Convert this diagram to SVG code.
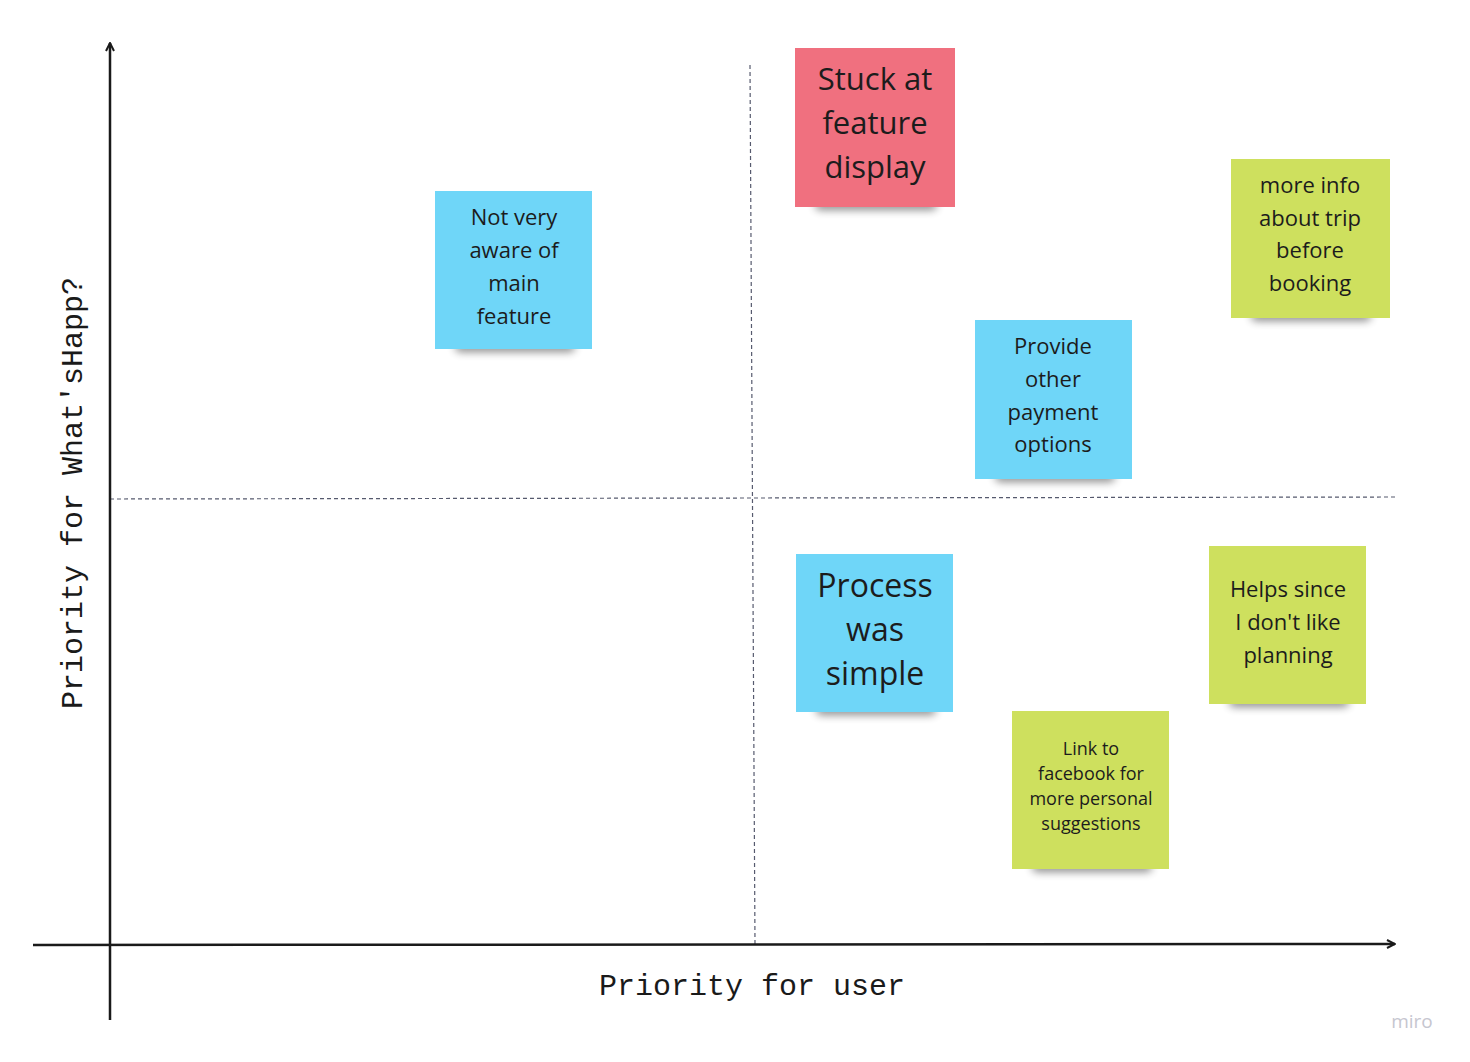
<svg xmlns="http://www.w3.org/2000/svg" width="1470" height="1062" viewBox="0 0 1470 1062">
<style>
.note text{font-family:"Open Sans","Liberation Sans",sans-serif;fill:#1c1c1c;text-anchor:middle;dominant-baseline:central}
.blue{fill:#6fd6f8}
.green{fill:#cee05e}
.pink{fill:#f0707f}
.shadow{fill:#000;opacity:0.45;filter:url(#blur)}
.axis{stroke:#1a1a1a;stroke-width:2.5;fill:none}
.dash{stroke:#565a6e;stroke-width:1.2;stroke-dasharray:4 3;fill:none}
.label{font-family:"Liberation Mono","DejaVu Sans Mono",monospace;font-size:30px;fill:#1a1a1a}
</style>
<defs>
<filter id="blur" x="-20%" y="-100%" width="140%" height="300%"><feGaussianBlur stdDeviation="4"/></filter>
<marker id="arr" viewBox="0 0 10 10" refX="9" refY="5" markerWidth="10" markerHeight="10" markerUnits="userSpaceOnUse" orient="auto">
<path d="M1,1 L9,5 L1,9" fill="none" stroke="#1a1a1a" stroke-width="2"/>
</marker>
</defs>
<rect width="1470" height="1062" fill="#fff"/>
<g id="connectors">
<line class="dash" x1="750" y1="65" x2="755" y2="945"/>
<line class="dash" x1="110" y1="499" x2="1397" y2="497"/>
<line class="axis" x1="110" y1="1020" x2="110" y2="43" marker-end="url(#arr)"/>
<line class="axis" x1="33" y1="945" x2="1395" y2="944" marker-end="url(#arr)"/>
</g>
<g id="axis-labels">
<text class="label" x="752" y="995" text-anchor="middle">Priority for user</text>
<text class="label" x="82" y="493" text-anchor="middle" transform="rotate(-90 82 493)">Priority for What'sHapp?</text>
</g>
<g id="note-stuck" class="note">
<rect class="shadow" x="815" y="200" width="122" height="10" rx="5"/>
<rect class="pink" x="795" y="48" width="160" height="159"/>
<text font-size="31"><tspan x="875" y="78">Stuck at</tspan><tspan x="875" y="122">feature</tspan><tspan x="875" y="166">display</tspan></text>
</g>
<g id="note-notaware" class="note">
<rect class="shadow" x="455" y="342" width="120" height="10" rx="5"/>
<rect class="blue" x="435" y="191" width="157" height="158"/>
<text font-size="22"><tspan x="514" y="216">Not very</tspan><tspan x="514" y="249">aware of</tspan><tspan x="514" y="282">main</tspan><tspan x="514" y="315">feature</tspan></text>
</g>
<g id="note-moreinfo" class="note">
<rect class="shadow" x="1251" y="311" width="120" height="10" rx="5"/>
<rect class="green" x="1231" y="159" width="159" height="159"/>
<text font-size="22"><tspan x="1310" y="184">more info</tspan><tspan x="1310" y="217">about trip</tspan><tspan x="1310" y="249">before</tspan><tspan x="1310" y="282">booking</tspan></text>
</g>
<g id="note-payment" class="note">
<rect class="shadow" x="995" y="472" width="120" height="10" rx="5"/>
<rect class="blue" x="975" y="320" width="157" height="159"/>
<text font-size="22"><tspan x="1053" y="345">Provide</tspan><tspan x="1053" y="378">other</tspan><tspan x="1053" y="411">payment</tspan><tspan x="1053" y="443">options</tspan></text>
</g>
<g id="note-process" class="note">
<rect class="shadow" x="816" y="705" width="120" height="10" rx="5"/>
<rect class="blue" x="796" y="554" width="157" height="158"/>
<text font-size="32"><tspan x="875" y="584">Process</tspan><tspan x="875" y="628">was</tspan><tspan x="875" y="672">simple</tspan></text>
</g>
<g id="note-helps" class="note">
<rect class="shadow" x="1229" y="697" width="120" height="10" rx="5"/>
<rect class="green" x="1209" y="546" width="157" height="158"/>
<text font-size="22"><tspan x="1288" y="588">Helps since</tspan><tspan x="1288" y="621">I don't like</tspan><tspan x="1288" y="654">planning</tspan></text>
</g>
<g id="note-facebook" class="note">
<rect class="shadow" x="1032" y="862" width="120" height="10" rx="5"/>
<rect class="green" x="1012" y="711" width="157" height="158"/>
<text font-size="18"><tspan x="1091" y="748">Link to</tspan><tspan x="1091" y="773">facebook for</tspan><tspan x="1091" y="798">more personal</tspan><tspan x="1091" y="823">suggestions</tspan></text>
</g>
<text x="1412" y="1028" text-anchor="middle" font-family="Open Sans, Liberation Sans, sans-serif" font-size="19" fill="#c6c6d0">miro</text>
</svg>
